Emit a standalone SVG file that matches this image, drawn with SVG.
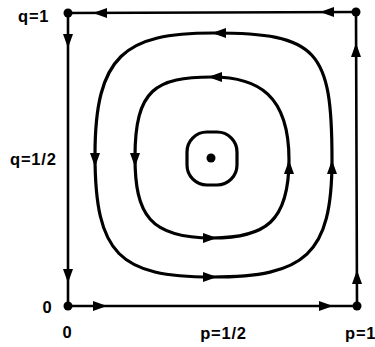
<svg xmlns="http://www.w3.org/2000/svg" xmlns:xlink="http://www.w3.org/1999/xlink" width="375" height="347" viewBox="0 0 375 347">
<style>
.edge{fill:none;stroke:#000;stroke-width:2.6;stroke-linecap:round;stroke-linejoin:round}
.orbit{fill:none;stroke:#000;stroke-width:3.2;stroke-linejoin:round}
.lbl{font-family:"Liberation Sans",Arial,sans-serif;font-weight:bold;font-size:16.5px;fill:#000;letter-spacing:0.8px}
.dot{fill:#000}
</style>
<defs>
<polygon id="ah" points="0,0 -14,-5 -14,5" fill="#000"/>
</defs>
<rect width="375" height="347" fill="#fff"/>
<g id="connectors">
<path class="edge" d="M357 12 L68 13"/>
<path class="edge" d="M68 13 L68 306"/>
<path class="edge" d="M68 306 L357 306"/>
<path class="edge" d="M357 306 L356 12"/>
<path id="outer" class="orbit" d="M213 33 C125 33 95 55 95 155 C95 255 120 277 212 277 C305 277 332 255 332 160 C332 50 318 33 213 33 Z"/>
<path id="middle" class="orbit" d="M212 77 C156 77 135 89 135 157 C135 215 150 238 212 238 C265 238 289 222 289 160 C289 95 258 77 212 77 Z"/>
<rect id="inner" class="orbit" x="187" y="132" width="50" height="53" rx="20" ry="20"/>
<use xlink:href="#ah" transform="translate(93,13) rotate(180)"/>
<use xlink:href="#ah" transform="translate(320,12) rotate(180)"/>
<use xlink:href="#ah" transform="translate(68,48) rotate(90)"/>
<use xlink:href="#ah" transform="translate(68,283) rotate(90)"/>
<use xlink:href="#ah" transform="translate(107,306)"/>
<use xlink:href="#ah" transform="translate(333,306)"/>
<use xlink:href="#ah" transform="translate(356,43) rotate(-90)"/>
<use xlink:href="#ah" transform="translate(357,270) rotate(-90)"/>
<use xlink:href="#ah" transform="translate(212,33) rotate(180)"/>
<use xlink:href="#ah" transform="translate(95,167) rotate(90)"/>
<use xlink:href="#ah" transform="translate(217,277)"/>
<use xlink:href="#ah" transform="translate(332,160) rotate(-90)"/>
<use xlink:href="#ah" transform="translate(208,77) rotate(180)"/>
<use xlink:href="#ah" transform="translate(135,167) rotate(90)"/>
<use xlink:href="#ah" transform="translate(217,238)"/>
<use xlink:href="#ah" transform="translate(289,160) rotate(-90)"/>
</g>
<g id="node-tl"><circle class="dot" cx="68" cy="13" r="4.5"/></g>
<g id="node-tr"><circle class="dot" cx="356" cy="12" r="4.5"/></g>
<g id="node-bl"><circle class="dot" cx="68" cy="306" r="4.5"/></g>
<g id="node-br"><circle class="dot" cx="357" cy="306" r="4.5"/></g>
<g id="node-center"><circle class="dot" cx="211" cy="158" r="4.5"/></g>
<g id="labels">
<text class="lbl" x="18" y="22">q=1</text>
<text class="lbl" x="10" y="165">q=1/2</text>
<text class="lbl" x="47.5" y="313" text-anchor="middle">0</text>
<text class="lbl" x="67.5" y="338" text-anchor="middle">0</text>
<text class="lbl" x="223.5" y="339" text-anchor="middle">p=1/2</text>
<text class="lbl" x="345" y="339">p=1</text>
</g>
</svg>
